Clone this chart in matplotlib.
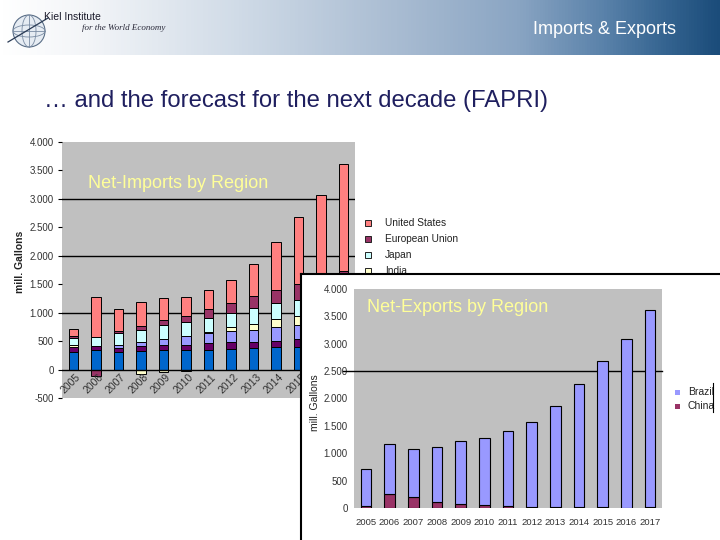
import numpy as np
import matplotlib
matplotlib.use('Agg')
import matplotlib.pyplot as plt
from matplotlib.patches import Rectangle, Circle, Ellipse
from matplotlib.lines import Line2D
from matplotlib.colors import LinearSegmentedColormap

plt.rcParams['font.family'] = ['Liberation Sans', 'DejaVu Sans']

# ---------------- data ----------------
years = ['2005', '2006', '2007', '2008', '2009', '2010', '2011',
         '2012', '2013', '2014', '2015', '2016', '2017']

# Net imports (stack order bottom -> top)
imp_region_a = [305, 350, 305, 325, 340, 335, 340, 365, 380, 390, 390, 400, 410]
imp_region_b = [95, 60, 75, 90, 100, 105, 130, 120, 110, 115, 155, 160, 170]
imp_region_c = [0, 0, 60, 75, 105, 155, 175, 190, 210, 245, 230, 240, 250]
imp_india = [40, 0, 0, -70, -45, -20, 15, 75, 105, 130, 160, 170, 180]
imp_japan = [115, 165, 205, 210, 230, 240, 240, 240, 275, 290, 290, 310, 320]
imp_eu = [30, -110, 30, 70, 90, 100, 165, 185, 205, 220, 275, 290, 395]
imp_us = [130, 700, 390, 415, 395, 345, 335, 395, 575, 845, 1175, 1500, 1885]

legend_names = ['United States', 'European Union', 'Japan', 'India']

# Net exports
exp_china = [30, 250, 200, 105, 75, 50, 30, 15, 15, 15, 15, 0, 15]
exp_brazil = [677, 919, 872, 1003, 1143, 1222, 1370, 1550, 1848, 2244, 2670, 3081, 3601]

W, H = 720, 540
fig = plt.figure(figsize=(7.2, 5.4), dpi=100)


def fbox(x0, y0, x1, y1):
    return [x0 / W, 1 - y1 / H, (x1 - x0) / W, (y1 - y0) / H]


def fx(x):
    return x / W


def fy(y):
    return 1 - y / H


def fmt(v):
    return f"{v:,}".replace(',', '.')


# ---------------- banner ----------------
bax = fig.add_axes(fbox(0, 0, 720, 55))
bax.axis('off')
cmap = LinearSegmentedColormap.from_list(
    'banner', [(0, '#ffffff'), (0.12, '#f3f5f8'), (0.33, '#d0dbe7'),
               (0.55, '#a9bcd2'), (0.72, '#8aa5c3'), (0.84, '#5a82aa'),
               (0.92, '#376692'), (1, '#1b4c7a')])
grad = np.linspace(0, 1, 720).reshape(1, -1)
bax.imshow(grad, aspect='auto', cmap=cmap, extent=[0, 720, 55, 0])
bax.set_xlim(0, 720)
bax.set_ylim(55, 0)
# logo globe
bax.add_patch(Circle((29, 31), 16, facecolor='#e6ecf3', edgecolor='#5b6f88', lw=0.8))
bax.add_patch(Ellipse((29, 31), 14, 32, facecolor='none', edgecolor='#7a8ca3', lw=0.6))
bax.add_patch(Ellipse((29, 31), 32, 12, facecolor='none', edgecolor='#7a8ca3', lw=0.6))
bax.plot([13, 45], [31, 31], color='#7a8ca3', lw=0.6)
bax.plot([29, 29], [15, 47], color='#7a8ca3', lw=0.6)
bax.plot([8, 48], [42, 18], color='#2a3b55', lw=0.9)
bax.text(44, 17, 'Kiel Institute', fontsize=7.5, color='#1a1a2a', va='center', ha='left')
bax.text(82, 28, 'for the World Economy', fontsize=6.5, color='#2a2a3a', va='center',
         ha='left', style='italic', family=['Liberation Serif', 'DejaVu Serif'])
bax.text(676, 30, 'Imports & Exports', fontsize=13, color='white', va='center', ha='right')

# subtitle
fig.text(fx(44), fy(101), '\u2026 and the forecast for the next decade (FAPRI)',
         fontsize=17.2, color='#1f1f5f', va='center', ha='left')

# ---------------- left chart: net imports ----------------
ax1 = fig.add_axes(fbox(62, 142, 355, 398), zorder=1)
ax1.set_facecolor('#c0c0c0')
x = np.arange(len(years))
series = [(imp_region_a, '#0066CC'), (imp_region_b, '#660066'),
          (imp_region_c, '#9999FF'), (imp_india, '#FFFFCC'),
          (imp_japan, '#CCFFFF'), (imp_eu, '#993366'), (imp_us, '#FF8080')]
pos = np.zeros(len(years))
neg = np.zeros(len(years))
for vals, col in series:
    v = np.array(vals, float)
    base = np.where(v >= 0, pos, neg)
    ax1.bar(x, v, 0.42, bottom=base, color=col, edgecolor='black', linewidth=0.7, zorder=3)
    pos += np.clip(v, 0, None)
    neg += np.clip(v, None, 0)
ax1.set_xlim(-0.5, 12.5)
ax1.set_ylim(-500, 4000)
for g in [1000, 2000, 3000]:
    ax1.axhline(g, color='black', lw=1, zorder=2)
ax1.axhline(0, color='black', lw=1, zorder=4)
yt = list(range(-500, 4001, 500))
ax1.set_yticks(yt)
ax1.set_yticklabels([fmt(v) for v in yt])
ax1.tick_params(axis='y', length=3, width=0.8, color='black', labelcolor='#333333',
                labelsize=7, pad=3)
ax1.set_xticks([])
for s in ax1.spines.values():
    s.set_visible(False)
for i, lab in enumerate(years):
    ax1.text(i + 0.1, -45, lab, rotation=45, rotation_mode='anchor', ha='right', va='top',
             fontsize=7.5, color='#333333')
ax1.text((88 - 62) / 293, (398 - 183) / 256, 'Net-Imports by Region', transform=ax1.transAxes,
         fontsize=13, color='#FFFF99', ha='left', va='center')
fig.text(fx(20), fy(262), 'mill. Gallons', rotation=90, fontsize=7.5, fontweight='bold',
         ha='center', va='center', color='#222222')

# left legend (partly hidden behind the export panel)
leg_cols = ['#FF8080', '#993366', '#CCFFFF', '#FFFFCC']
for k, (name, col) in enumerate(zip(legend_names, leg_cols)):
    yy = 223 + 16 * k
    ax1.add_patch(Rectangle((fx(365), fy(yy + 3)), 6 / W, 6 / H, transform=fig.transFigure,
                            facecolor=col, edgecolor='#222222', lw=0.7, clip_on=False))
    ax1.text(fx(385), fy(yy), name, transform=fig.transFigure, fontsize=7.3,
             color='#222222', ha='left', va='center', clip_on=False)

# ---------------- overlay panel ----------------
ov = fig.add_axes(fbox(301, 274, 722, 542), zorder=5)
ov.set_facecolor('white')
ov.set_xticks([])
ov.set_yticks([])
for side in ['right', 'bottom']:
    ov.spines[side].set_visible(False)
for side in ['top', 'left']:
    ov.spines[side].set_linewidth(1.5)
    ov.spines[side].set_color('black')

# ---------------- right chart: net exports ----------------
ax2 = fig.add_axes(fbox(354, 289, 662, 508), zorder=6)
ax2.set_facecolor('#c0c0c0')
ax2.bar(x, exp_china, 0.45, color='#993366', edgecolor='black', linewidth=0.8, zorder=3)
ax2.bar(x, exp_brazil, 0.45, bottom=exp_china, color='#9999FF', edgecolor='black',
        linewidth=0.8, zorder=3)
ax2.set_xlim(-0.5, 12.5)
ax2.set_ylim(0, 4000)
ax2.plot([-0.5 - 11 / 23.7, 12.5], [2500, 2500], color='black', lw=1, zorder=2, clip_on=False)
yt2 = list(range(0, 4001, 500))
ax2.set_yticks(yt2)
ax2.set_yticklabels([fmt(v) for v in yt2])
ax2.set_xticks(x)
ax2.set_xticklabels(years)
ax2.tick_params(axis='y', length=0, labelsize=7, labelcolor='#333333', pad=4.5)
ax2.tick_params(axis='x', length=0, labelsize=6.8, labelcolor='#333333', pad=7)
for s in ax2.spines.values():
    s.set_visible(False)
ax2.text((367 - 354) / 308, (508 - 308) / 219, 'Net-Exports by Region', transform=ax2.transAxes,
         fontsize=13, color='#FFFF99', ha='left', va='center')
fig.text(fx(315), fy(403), 'mill. Gallons', rotation=90, fontsize=7.5, ha='center',
         va='center', color='#222222', zorder=10)

# right legend
for k, (name, col) in enumerate([('Brazil', '#9999FF'), ('China', '#993366')]):
    yy = 392 + 14 * k
    fig.add_artist(Rectangle((fx(675), fy(yy + 2.5)), 5 / W, 5 / H, transform=fig.transFigure,
                             facecolor=col, edgecolor='none', zorder=10))
    fig.text(fx(688), fy(yy), name, fontsize=7.5, color='#222222', ha='left', va='center',
             zorder=10)
fig.add_artist(Line2D([fx(713), fx(713)], [fy(383), fy(412)], transform=fig.transFigure,
                      color='black', lw=0.8, zorder=11))

fig.savefig('out.png', dpi=100)
